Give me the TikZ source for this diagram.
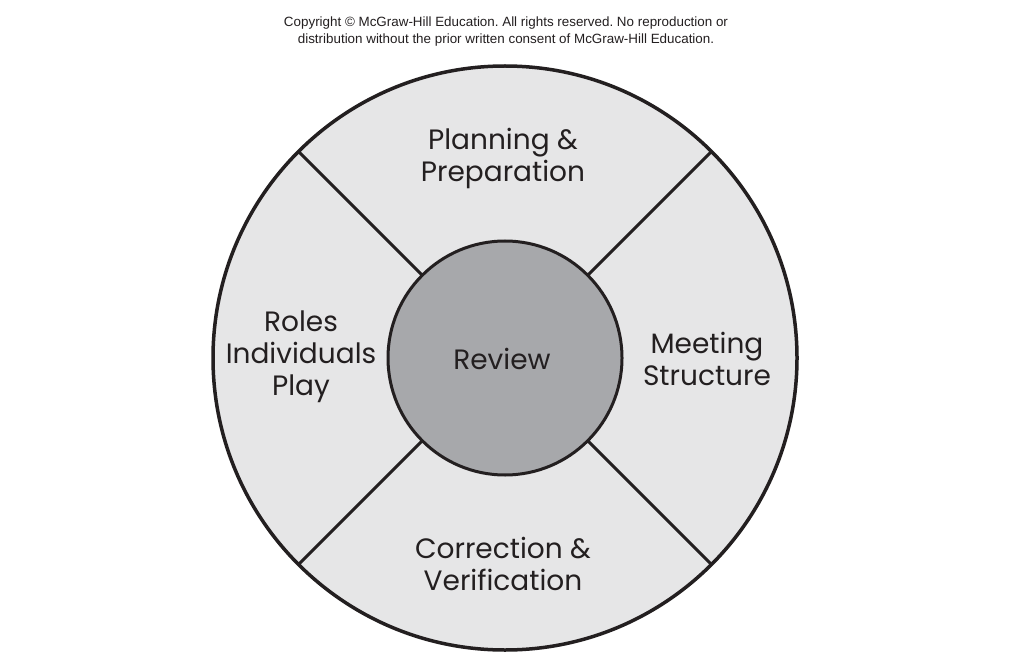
\documentclass[tikz,border=0pt]{standalone}
\usepackage{fontspec}
\usetikzlibrary{calc}
\setmainfont{Poppins}
\newfontfamily\copyfont{Liberation Sans}
\frenchspacing
\definecolor{ringfill}{HTML}{E6E6E7}
\definecolor{hubfill}{HTML}{A7A8AB}
\definecolor{ink}{HTML}{231F20}
\tikzset{
  lbl/.style={text=ink, font=\fontsize{28}{32}\selectfont, align=center, inner sep=0pt},
  divider/.style={draw=ink, line width=3pt},
}
\begin{document}
\begin{tikzpicture}[x=1pt,y=-1pt]
\useasboundingbox[fill=white] (0,0) rectangle (1022,660);
\node[font=\copyfont\fontsize{13.4}{17}\selectfont, align=center, text=ink, inner sep=0pt] (copy) at (506,32)
  {Copyright \textcopyright{} McGraw-Hill Education. All rights reserved. No reproduction or\\distribution without the prior written consent of McGraw-Hill Education.};
\coordinate (c) at (505,358);
\fill[ringfill] (c) circle[radius=292];
\foreach \a/\n in {45/ur,135/ul,225/ll,315/lr}{
  \coordinate (o\n) at ($(c)+(\a:292)$);
  \coordinate (i\n) at ($(c)+(\a:117)$);
}
\draw[divider] (oul) -- (iul);
\draw[divider] (our) -- (iur);
\draw[divider] (oll) -- (ill);
\draw[divider] (olr) -- (ilr);
\draw[ink, line width=3.5pt] (c) circle[radius=292];
\node[circle, draw=ink, line width=3pt, fill=hubfill, minimum size=234pt, inner sep=0pt] (hub) at (c) {};
\node[lbl] (review) at (502,359) {Review};
\node[lbl] (plan) at (503,158) {Planning \&\\Preparation};
\node[lbl] (meet) at (707,359) {Meeting\\Structure};
\node[lbl] (roles) at (301,357) {Roles\\Individuals\\Play};
\node[lbl] (corr) at (503,564) {Correction \&\\Verification};
\end{tikzpicture}
\end{document}
